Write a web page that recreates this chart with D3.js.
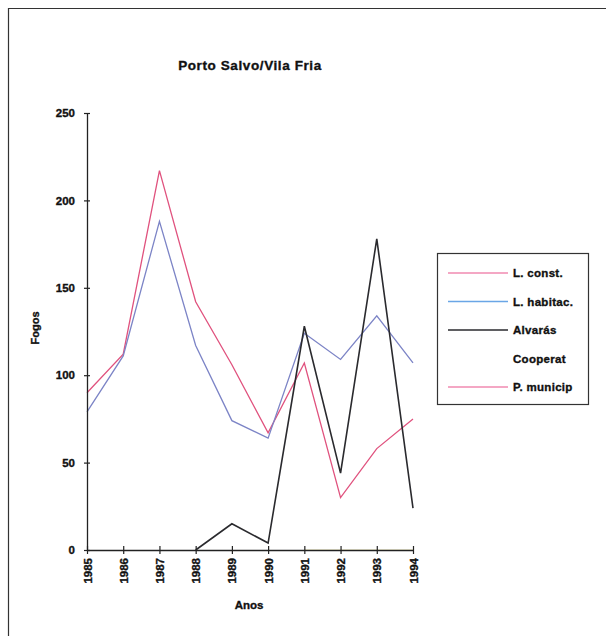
<!DOCTYPE html>
<html>
<head>
<meta charset="utf-8">
<script src="https://cdn.jsdelivr.net/npm/d3@7"></script>
<style>
  html, body { margin: 0; padding: 0; background: #fff; }
  svg { display: block; }
  text { font-family: "Liberation Sans", Arial, sans-serif; font-weight: bold; fill: #111; stroke: #111; stroke-width: 0.35; }
</style>
</head>
<body>
<svg id="chart" width="606" height="637"></svg>
<script>
// Fogos por ano – Porto Salvo/Vila Fria
const years = ["1985", "1986", "1987", "1988", "1989", "1990", "1991", "1992", "1993", "1994"];
const lConst    = [90, 112, 217, 142, 106, 67, 107, 30, 58, 75];
const lHabitac  = [79, 111, 188, 117, 74, 64, 124, 109, 134, 107];
const alvaras   = [null, null, null, 0, 15, 4, 128, 44, 178, 24];
const cooperat  = [null, null, null, null, null, null, 0, 0, 0, 0];
const pMunicip  = [null, null, null, null, null, null, null, null, null, null];
const yTicks    = [0, 50, 100, 150, 200, 250];

const seriesNames  = ["L. const.", "L. habitac.", "Alvarás", "Cooperat", "P. municip"];
const seriesValues = [lConst, lHabitac, alvaras, cooperat, pMunicip];
const seriesColors = ["#e0527e", "#7c84c6", "#2a2a2e", "#f7f3cf", "#ee7fb0"];
const legendColors = ["#f08ab0", "#6aa6e6", "#2a2a2e", "#ffffff", "#f08ab0"];

const svg = d3.select("#chart");

// outer frame
svg.append("path")
  .attr("d", "M8.5,636 L8.5,8.5 L606,8.5")
  .attr("fill", "none").attr("stroke", "#333").attr("stroke-width", 1.2);

const x = d3.scalePoint().domain(years).range([87, 413]);
const y = d3.scaleLinear().domain([0, 250]).range([550, 113]);

// title
svg.append("text").attr("x", 250).attr("y", 70)
  .attr("text-anchor", "middle").attr("font-size", 13.5)
  .attr("letter-spacing", 0.6).text("Porto Salvo/Vila Fria");

// series lines (drawn first so the axes sit on top of the zero values)
const line = d3.line()
  .defined(d => d != null)
  .x((d, i) => x(years[i]))
  .y(d => y(d));

const order = [3, 4, 0, 1, 2];
order.forEach(k => {
  svg.append("path")
    .datum(seriesValues[k])
    .attr("fill", "none")
    .attr("stroke", seriesColors[k])
    .attr("stroke-width", k === 2 ? 1.6 : 1.3)
    .attr("stroke-linejoin", "miter")
    .attr("d", line);
});

const tickFont = sel => sel
  .attr("font-family", "Liberation Sans, Arial, sans-serif")
  .attr("font-weight", "bold").attr("fill", "#111")
  .attr("stroke", "#111").attr("stroke-width", 0.35);

// y axis
const yAxis = svg.append("g").attr("transform", "translate(87,0)")
  .call(d3.axisLeft(y).tickValues(yTicks).tickSize(3).tickSizeOuter(0));
yAxis.select(".domain").attr("stroke", "#222").attr("stroke-width", 1.3);
yAxis.selectAll(".tick line").attr("x2", 3).attr("x1", -3).attr("stroke", "#222").attr("stroke-width", 1.2);
yAxis.selectAll(".tick text").attr("x", -12).attr("font-size", 11.5).call(tickFont);

// x axis
const xAxis = svg.append("g").attr("transform", "translate(0,550)")
  .call(d3.axisBottom(x).tickSize(3).tickSizeOuter(0));
xAxis.select(".domain").attr("stroke", "#222").attr("stroke-width", 1.3);
xAxis.selectAll(".tick line").attr("y1", -4).attr("y2", 4).attr("stroke", "#222").attr("stroke-width", 1.2);
xAxis.selectAll(".tick text")
  .attr("font-size", 11.5).call(tickFont)
  .attr("transform", "rotate(-90)")
  .attr("text-anchor", "end")
  .attr("x", -8).attr("y", 0).attr("dy", "0.35em");

// axis titles
svg.append("text").attr("transform", "translate(39,328) rotate(-90)")
  .attr("text-anchor", "middle").attr("font-size", 11).text("Fogos");
svg.append("text").attr("x", 249).attr("y", 609)
  .attr("text-anchor", "middle").attr("font-size", 11.5).text("Anos");

// legend
const lg = svg.append("g");
lg.append("rect").attr("x", 437.5).attr("y", 253.5).attr("width", 151).attr("height", 151)
  .attr("fill", "#fff").attr("stroke", "#333").attr("stroke-width", 1.2);
seriesNames.forEach((name, i) => {
  const yy = 273 + i * 28.5;
  lg.append("line").attr("x1", 448).attr("x2", 508).attr("y1", yy).attr("y2", yy)
    .attr("stroke", legendColors[i]).attr("stroke-width", 1.3);
  lg.append("text").attr("x", 513).attr("y", yy).attr("dy", "0.35em")
    .attr("font-size", 11.5).attr("letter-spacing", 0.3).text(name);
});
</script>
</body>
</html>
